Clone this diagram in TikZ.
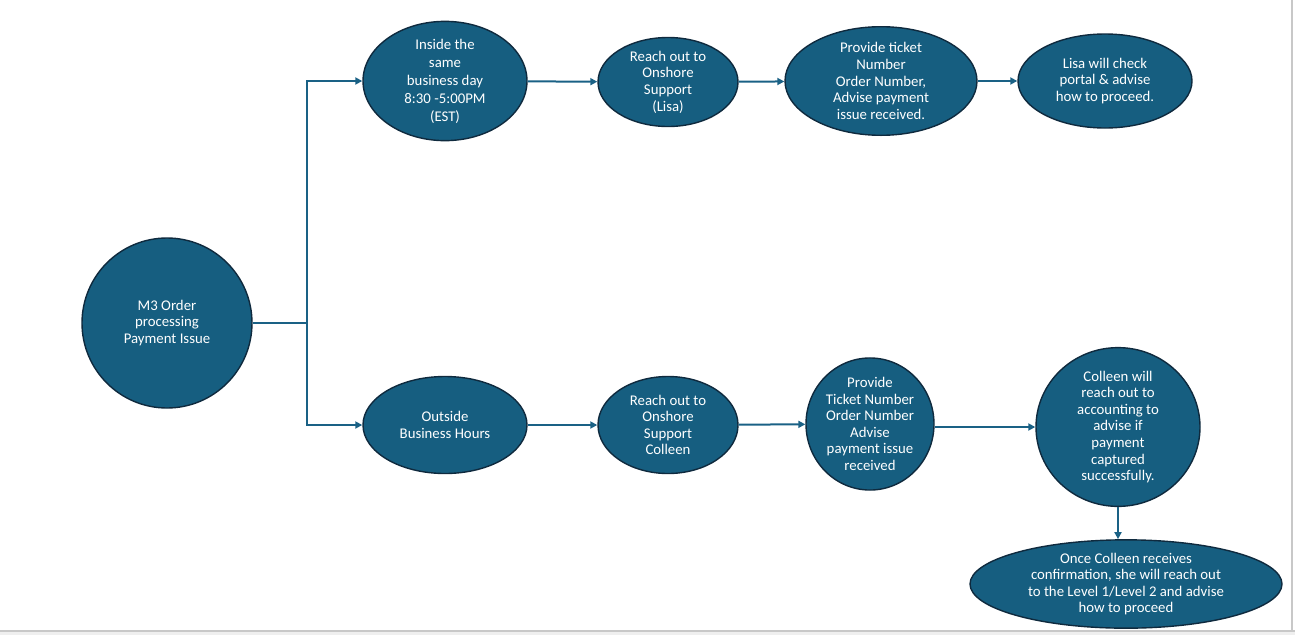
\documentclass[tikz,border=0pt]{standalone}
\usepackage{fontspec}
\setmainfont{Carlito}
\usepackage{xcolor}
\usepackage{tikz}
\usetikzlibrary{arrows.meta,shapes.geometric}
\definecolor{pfFill}{HTML}{165E80}
\definecolor{pfEdge}{HTML}{0F2A3E}
\definecolor{pfLink}{HTML}{1A6185}
\definecolor{pfPage}{HTML}{C8C8C8}
\definecolor{pfStrip}{HTML}{EFEFEF}
\tikzset{
  pf diagram/.style={x=1pt, y=-1pt, line cap=butt, line join=miter},
  pf node/.style={ellipse, draw=pfEdge, fill=pfFill, line width=1.4pt,
    text=white, align=center, inner sep=0pt,
    font=\fontsize{14.8}{16.6}\selectfont},
  pf line/.style={draw=pfLink, line width=2pt},
  pf arrow/.style={pf line, -{Triangle[length=7pt, width=7pt]}},
  pf border/.style={draw=pfPage, line width=1.2pt}
}
\begin{document}
\begin{tikzpicture}[pf diagram]
\useasboundingbox (0,0) rectangle (1295,635);
% page edge
\fill[pfStrip] (0,631) rectangle (1295,635);
\draw[pf border] (0,631) -- (1295,631);
\draw[pf border] (1292,0) -- (1292,631);
% start
\node[pf node, minimum width=170pt, minimum height=170pt] (root) at (167,323)
  {M3 Order\\processing\\Payment Issue};
\coordinate (split) at (307,323);
% upper path
\node[pf node, minimum width=164pt, minimum height=96pt,
  font=\fontsize{14.8}{18}\selectfont] (inside) at (445,81)
  {Inside the\\same\\business day\\8:30 -5:00PM\\(EST)};
\node[pf node, minimum width=140pt, minimum height=89pt] (reachL) at (668,82)
  {Reach out to\\Onshore\\Support\\(Lisa)};
\node[pf node, minimum width=192pt, minimum height=94pt] (provideL) at (881,81)
  {Provide ticket\\Number\\Order Number,\\Advise payment\\issue received.};
\node[pf node, minimum width=174pt, minimum height=94pt] (checkL) at (1105,81)
  {Lisa will check\\portal \& advise\\how to proceed.};
% lower path
\node[pf node, minimum width=164pt, minimum height=97pt] (outside) at (445,425)
  {Outside\\Business Hours};
\node[pf node, minimum width=140pt, minimum height=97pt] (reachC) at (668,425)
  {Reach out to\\Onshore\\Support\\Colleen};
\node[pf node, minimum width=128pt, minimum height=108pt] (provideC) at (870,424)
  {Provide\\Ticket Number\\Order Number\\Advise\\payment issue\\received};
\node[pf node, minimum width=164pt, minimum height=125pt] (accountC) at (1118,427)
  {Colleen will\\reach out to\\accounting to\\advise if\\payment\\captured\\successfully.};
\node[pf node, minimum width=312pt, minimum height=80pt] (confirmC) at (1126,584)
  {Once Colleen receives\\confirmation, she will reach out\\to the Level 1/Level 2 and advise\\how to proceed};
% connectors
\draw[pf line] (root) -- (split);
\draw[pf arrow] (split) |- (inside);
\draw[pf arrow] (split) |- (outside);
\draw[pf arrow] (inside) -- (reachL);
\draw[pf arrow] (reachL) -- (provideL);
\draw[pf arrow] (provideL) -- (checkL);
\draw[pf arrow] (outside) -- (reachC);
\draw[pf arrow] (reachC) -- (provideC);
\draw[pf arrow] (provideC.east |- accountC.west) -- (accountC.west);
\draw[pf arrow] (accountC.south) -- (accountC.south |- confirmC.north);
\end{tikzpicture}
\end{document}
